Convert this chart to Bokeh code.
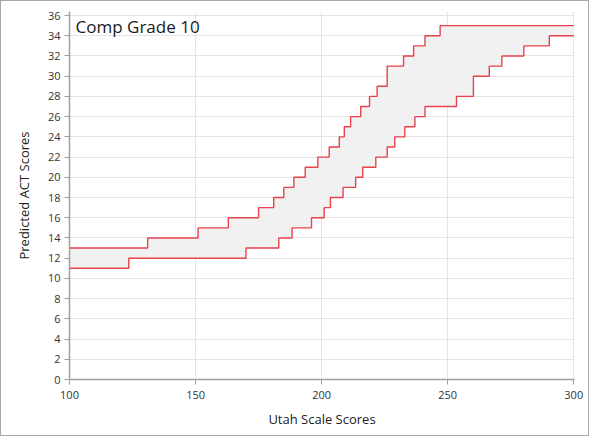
import numpy as np
from bokeh.plotting import figure
from bokeh.models import Label, Range1d, FixedTicker
from bokeh.embed import file_html
from bokeh.resources import INLINE

title_text = "Comp Grade 10"
x_label = "Utah Scale Scores"
y_label = "Predicted ACT Scores"

# upper bound step function (value starts at x)
upper_x = [100, 131, 151, 163, 175, 181, 185, 189, 193.5, 198.5, 203, 207, 209,
           211.5, 215.5, 219, 222, 226, 232.5, 236.5, 241, 247, 300]
upper_y = [13, 14, 15, 16, 17, 18, 19, 20, 21, 22, 23, 24, 25,
           26, 27, 28, 29, 31, 32, 33, 34, 35, 35]

# lower bound step function
lower_x = [100, 123.5, 170, 183, 188.3, 196, 201, 203.5, 208.5, 213.5, 216.3, 221.5,
           226, 229, 233, 237, 241, 253.5, 260.2, 266.5, 271.5, 280.2, 290.3, 300]
lower_y = [11, 12, 13, 14, 15, 16, 17, 18, 19, 20, 21, 22,
           23, 24, 25, 26, 27, 28, 30, 31, 32, 33, 34, 34]

x_ticks = [100, 150, 200, 250, 300]
y_ticks = list(range(0, 37, 2))

FONT = "Open Sans"
RED = "#e8424c"

p = figure(width=589, height=436, output_backend="svg", toolbar_location=None,
           x_range=Range1d(100, 300.3), y_range=Range1d(0, 36.4),
           min_border_left=68, min_border_right=16, min_border_top=10, min_border_bottom=58)
p.styles = {"border": "1px solid #a8a8a8"}
p.outline_line_color = None
p.background_fill_color = "white"
p.border_fill_color = "white"

# band fill between the two step functions
ux = np.array(upper_x); uy = np.array(upper_y)
lx = np.array(lower_x); ly = np.array(lower_y)
xs = np.unique(np.concatenate([ux, lx]))
hi = uy[np.searchsorted(ux, xs, side="right") - 1]
lo = ly[np.searchsorted(lx, xs, side="right") - 1]
p.varea_step(x=xs, y1=lo, y2=hi, step_mode="after", fill_color="#f1f1f1", fill_alpha=1.0)

p.step(upper_x, upper_y, mode="after", line_color=RED, line_width=1.4)
p.step(lower_x, lower_y, mode="after", line_color=RED, line_width=1.4)

p.add_layout(Label(x=102.4, y=34.9, text=title_text, text_font=FONT, text_font_size="17px",
                   text_color="#1a1a1a", text_baseline="middle", text_align="left"))

for ax in (p.xaxis[0], p.yaxis[0]):
    ax.axis_line_color = "#a0a0a0"
    ax.axis_line_width = 1.5
    ax.major_tick_line_color = "#a0a0a0"
    ax.major_tick_out = 5
    ax.major_tick_in = 0
    ax.minor_tick_line_color = None
    ax.major_label_text_font = FONT
    ax.major_label_text_font_size = "11px"
    ax.major_label_text_color = "#333333"
    ax.axis_label_text_font = FONT
    ax.axis_label_text_font_style = "normal"
    ax.axis_label_text_color = "#222222"
    ax.axis_label_text_font_size = "13px"

p.xaxis.ticker = FixedTicker(ticks=x_ticks)
p.yaxis.ticker = FixedTicker(ticks=y_ticks)
p.xaxis.axis_label = x_label
p.yaxis.axis_label = y_label
p.xaxis.major_label_standoff = 6
p.yaxis.major_label_standoff = 4
p.xaxis.axis_label_standoff = 8
p.yaxis.axis_label_standoff = 12

p.xgrid.grid_line_color = "#e4e4e4"
p.ygrid.grid_line_color = "#e4e4e4"
p.xgrid.ticker = FixedTicker(ticks=x_ticks)
p.ygrid.ticker = FixedTicker(ticks=y_ticks)

open("out.html", "w").write(file_html(p, INLINE))
